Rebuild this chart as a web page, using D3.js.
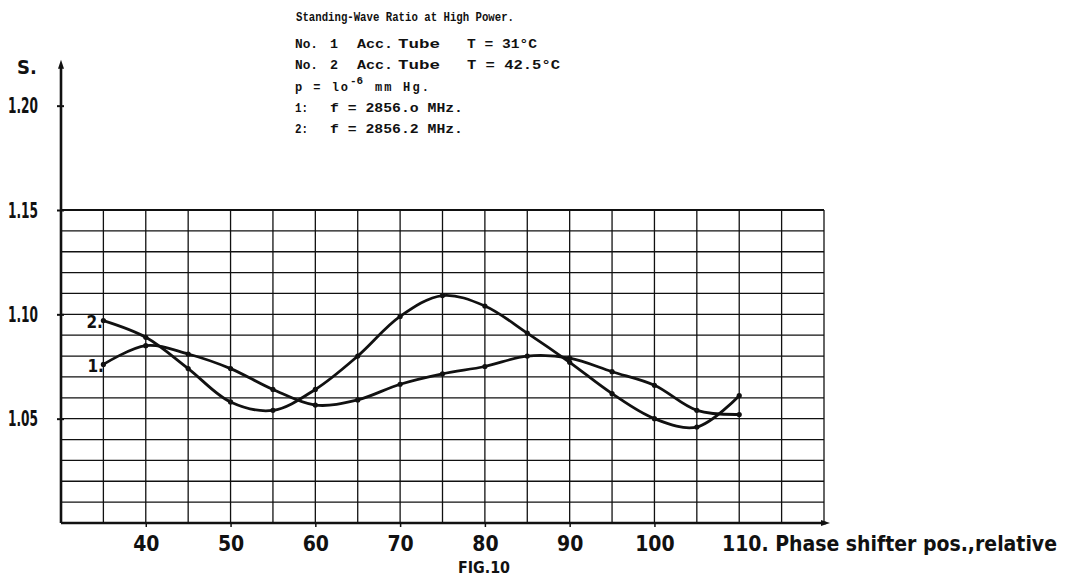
<!DOCTYPE html>
<html>
<head>
<meta charset="utf-8">
<script src="https://cdn.jsdelivr.net/npm/d3@7"></script>
<style>
  body { margin: 0; background: #fff; }
  .lbl { font-family: "DejaVu Sans Condensed", "Liberation Sans Narrow", sans-serif; fill: #111; }
  .typ { font-family: "Liberation Mono", "DejaVu Sans Mono", monospace; font-weight: bold; font-size: 12px; fill: #111; }
</style>
</head>
<body>
<div id="chart"></div>
<script>
// phase shifter position (relative)
const positions = [35, 40, 45, 50, 55, 60, 65, 70, 75, 80, 85, 90, 95, 100, 105, 110];
// curve 1: No. 1 Acc. Tube, f = 2856.0 MHz
const tube1 = [1.076, 1.085, 1.081, 1.074, 1.064, 1.0565, 1.059, 1.0665, 1.0715, 1.075, 1.080, 1.079, 1.0725, 1.066, 1.054, 1.052];
// curve 2: No. 2 Acc. Tube, f = 2856.2 MHz
const tube2 = [1.097, 1.089, 1.074, 1.058, 1.054, 1.064, 1.080, 1.099, 1.109, 1.104, 1.091, 1.077, 1.062, 1.050, 1.046, 1.061];

const xTicks = [40, 50, 60, 70, 80, 90, 100];
const yTicks = [1.05, 1.10, 1.15, 1.20];

// typed notes: each row is a list of [text, x, width] pieces
const notes = [
    [["No.", 295, 23], ["1", 330, 8], ["Acc.", 357, 36], ["Tube", 398, 42], ["T = 31°C", 467, 70]],
    [["No.", 295, 23], ["2", 330, 8], ["Acc.", 357, 36], ["Tube", 398, 42], ["T = 42.5°C", 467, 93]],
    null,
    [["1:", 295, 13], ["f = 2856.o MHz.", 330, 133]],
    [["2:", 295, 13], ["f = 2856.2 MHz.", 330, 133]]
];

const width = 1065, height = 577;

const svg = d3.select("#chart").append("svg")
    .attr("width", width)
    .attr("height", height);

const x = d3.scaleLinear().domain([30, 120]).range([61, 824]);
const y = d3.scaleLinear().domain([1.00, 1.15]).range([523, 210]);

// grid
const grid = svg.append("g").attr("stroke", "#111").attr("stroke-width", 1.3);
grid.selectAll(".v")
    .data(d3.range(35, 121, 5))
    .join("line")
      .attr("x1", d => x(d)).attr("x2", d => x(d))
      .attr("y1", y(1.15)).attr("y2", y(1.00));
grid.selectAll(".h")
    .data(d3.range(1, 16).map(i => 1 + i * 0.01))
    .join("line")
      .attr("x1", x(30)).attr("x2", x(120))
      .attr("y1", d => y(d)).attr("y2", d => y(d))
      .attr("stroke-width", (d, i) => i === 14 ? 2 : 1.3);

// axes
svg.append("line")
    .attr("x1", x(30)).attr("x2", x(30))
    .attr("y1", y(1.00)).attr("y2", y(1.218))
    .attr("stroke", "#111").attr("stroke-width", 2.6);
svg.append("path")
    .attr("d", `M${x(30)},${y(1.222)} l-3,9 l6,0 z`)
    .attr("fill", "#111");
svg.append("line")
    .attr("x1", x(30)).attr("x2", x(120) + 2)
    .attr("y1", y(1.00)).attr("y2", y(1.00))
    .attr("stroke", "#111").attr("stroke-width", 2.6);
svg.append("path")
    .attr("d", `M${x(120) + 6},${y(1.00)} l-9,-3 l0,6 z`)
    .attr("fill", "#111");

const yAxis = svg.append("g")
    .attr("transform", `translate(${x(30)},0)`)
    .call(d3.axisLeft(y).tickValues(yTicks).tickSize(5).tickFormat(d3.format(".2f")));
yAxis.select(".domain").remove();
yAxis.selectAll(".tick line").attr("stroke", "#111").attr("stroke-width", 2).attr("x2", 3).attr("x1", -4);
yAxis.selectAll(".tick text")
    .attr("class", "lbl")
    .attr("x", -53)
    .attr("text-anchor", "start")
    .attr("font-size", 22)
    .attr("font-weight", "bold")
    .attr("textLength", 30)
    .attr("lengthAdjust", "spacingAndGlyphs");

const xAxis = svg.append("g")
    .attr("transform", `translate(0,${y(1.00)})`)
    .call(d3.axisBottom(x).tickValues(xTicks).tickSize(4));
xAxis.select(".domain").remove();
xAxis.selectAll(".tick line").attr("stroke", "#111").attr("stroke-width", 1.5);
xAxis.selectAll(".tick text")
    .attr("class", "lbl")
    .attr("y", 13)
    .attr("font-size", 21)
    .attr("font-weight", "bold");

svg.append("text")
    .attr("class", "lbl")
    .attr("x", 722)
    .attr("y", 551)
    .attr("font-size", 21)
    .attr("font-weight", "bold")
    .attr("textLength", 335)
    .attr("lengthAdjust", "spacingAndGlyphs")
    .text("110. Phase shifter pos.,relative");

svg.append("text")
    .attr("class", "lbl")
    .attr("x", 458)
    .attr("y", 573)
    .attr("font-size", 16)
    .attr("font-weight", "bold")
    .attr("textLength", 52)
    .attr("lengthAdjust", "spacingAndGlyphs")
    .text("FIG.10");

svg.append("text")
    .attr("class", "lbl")
    .attr("x", 17)
    .attr("y", 74)
    .attr("font-size", 20)
    .attr("font-weight", "bold")
    .text("S.");

// curves
const line = d3.line()
    .x(d => x(d[0]))
    .y(d => y(d[1]))
    .curve(d3.curveCatmullRom.alpha(0.5));

[tube1, tube2].forEach(series => {
    const pts = positions.map((p, i) => [p, series[i]]);
    svg.append("path")
        .datum(pts)
        .attr("d", line)
        .attr("fill", "none")
        .attr("stroke", "#111")
        .attr("stroke-width", 2.8);
    svg.append("g")
        .selectAll("circle")
        .data(pts)
        .join("circle")
          .attr("cx", d => x(d[0]))
          .attr("cy", d => y(d[1]))
          .attr("r", 2.6)
          .attr("fill", "#111");
});

svg.append("text").attr("class", "lbl")
    .attr("x", x(35) - 17).attr("y", y(tube2[0]) + 7)
    .attr("font-size", 17).attr("font-weight", "bold").text("2.");
svg.append("text").attr("class", "lbl")
    .attr("x", x(35) - 16).attr("y", y(tube1[0]) + 8)
    .attr("font-size", 17).attr("font-weight", "bold").text("1.");

// annotations
svg.append("text")
    .attr("class", "typ")
    .attr("x", 296).attr("y", 21)
    .attr("textLength", 218)
    .attr("lengthAdjust", "spacingAndGlyphs")
    .text("Standing-Wave Ratio at High Power.");

const rowY = i => 48 + i * 21.3;
notes.forEach((row, i) => {
    if (!row) return;
    svg.append("g")
        .selectAll("text")
        .data(row)
        .join("text")
          .attr("class", "typ")
          .attr("x", d => d[1])
          .attr("y", rowY(i))
          .attr("textLength", d => d[2])
          .attr("lengthAdjust", "spacingAndGlyphs")
          .text(d => d[0]);
});

const pLine = svg.append("text")
    .attr("class", "typ")
    .attr("y", rowY(2));
pLine.append("tspan").attr("x", 295).attr("textLength", 53).text("p = lo");
pLine.append("tspan").attr("x", 350).attr("dy", -7).attr("font-size", 11).text("-6");
pLine.append("tspan").attr("x", 375).attr("dy", 7).attr("textLength", 54).text("mm Hg.");
</script>
</body>
</html>
